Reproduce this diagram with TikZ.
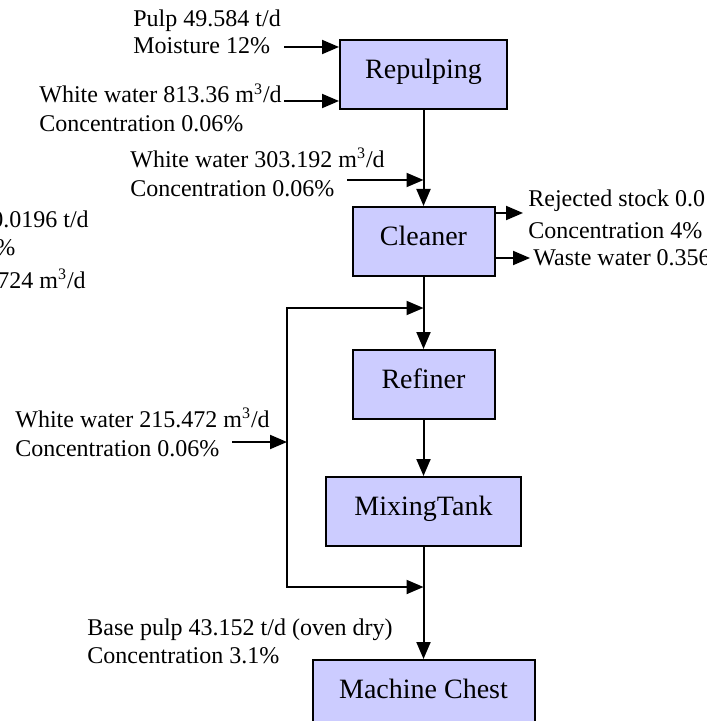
\documentclass[tikz,border=0pt]{standalone}
\usepackage{fontspec}
\setmainfont{Liberation Serif}
\usetikzlibrary{positioning, arrows.meta}
\definecolor{boxfill}{RGB}{204,204,255}
\tikzset{
  unit/.style={
    rectangle, draw, fill=boxfill, line width=1pt,
    font=\fontsize{14}{17}\selectfont,
    text height=10pt, text depth=6pt, inner sep=0pt,
    minimum height=34.5pt
  },
  note/.style={
    anchor=west, align=left, inner sep=0pt,
    font=\fontsize{12}{14.5}\selectfont
  },
  flow/.style={
    -{Triangle[length=8.5pt, width=7pt]}, line width=1pt
  }
}

\begin{document}
\begin{tikzpicture}[x=0.5pt, y=-0.5pt]
  \useasboundingbox (0,0) rectangle (706,721);
  \clip (0,0) rectangle (706,721);
  % process chain
  \node[unit, minimum width=83.5pt] (repulping) at (423.5,74.5) {Repulping};
  \node[unit, minimum width=71pt, below=48pt of repulping] (cleaner) {Cleaner};
  \node[unit, minimum width=71pt, below=36pt of cleaner] (refiner) {Refiner};
  \node[unit, minimum width=97.5pt, below=28pt of refiner] (mixtank) {MixingTank};
  \node[unit, minimum width=111pt, below=56pt of mixtank] (chest) {Machine Chest};
  \draw[flow] (repulping.south) -- (cleaner.north);
  \draw[flow] (cleaner.south) -- (refiner.north);
  \draw[flow] (refiner.south) -- (mixtank.north);
  \draw[flow] (mixtank.south) -- (chest.north);
  % labels
  \node[note] (pulplbl) at (133,31.5) {Pulp 49.584 t/d\\[-1pt]Moisture 12\%};
  \node[note] (ww1lbl) at (39,108) {White water 813.36 m\textsuperscript{3}/d\\Concentration 0.06\%};
  \node[note] (ww2lbl) at (130,172.5) {White water 303.192 m\textsuperscript{3}/d\\Concentration 0.06\%};
  \node[note] (rejlbl) at (528,214) {Rejected stock 0.0\\[1.5pt]Concentration 4\%};
  \node[note] (wastelbl) at (533,258) {Waste water 0.356};
  \node[note] (cutrej) at (-9,219) {0.0196 t/d};
  \node[note] (cutconc) at (-5,248) {\%};
  \node[note] (cutwaste) at (-3,279) {724 m\textsuperscript{3}/d};
  \node[note] (ww3lbl) at (15,432.5) {White water 215.472 m\textsuperscript{3}/d\\Concentration 0.06\%};
  \node[note] (baselbl) at (87,641) {Base pulp 43.152 t/d (oven dry)\\[-0.5pt]Concentration 3.1\%};
  % feeds and outlets
  \coordinate (pulpsrc) at (284,47);
  \coordinate (ww1src) at (284,101);
  \coordinate (ww2src) at (347,180);
  \coordinate (rejdst) at (523,213);
  \coordinate (wastedst) at (530,258);
  \draw[flow] (pulpsrc) -- (pulpsrc -| repulping.west);
  \draw[flow] (ww1src) -- (ww1src -| repulping.west);
  \draw[flow] (ww2src) -- (ww2src -| repulping.south);
  \draw[flow] (rejdst -| cleaner.east) -- (rejdst);
  \draw[flow] (wastedst -| cleaner.east) -- (wastedst);
  % white water loop
  \coordinate (ww3src) at (232,442);
  \coordinate (fbmid) at (287,442);
  \coordinate (fbtop) at (287,308);
  \coordinate (fbbot) at (287,587);
  \draw[flow] (ww3src) -- (fbmid);
  \draw[flow] (fbmid) |- (fbtop -| refiner.north);
  \draw[flow] (fbmid) |- (fbbot -| chest.north);
\end{tikzpicture}
\end{document}
